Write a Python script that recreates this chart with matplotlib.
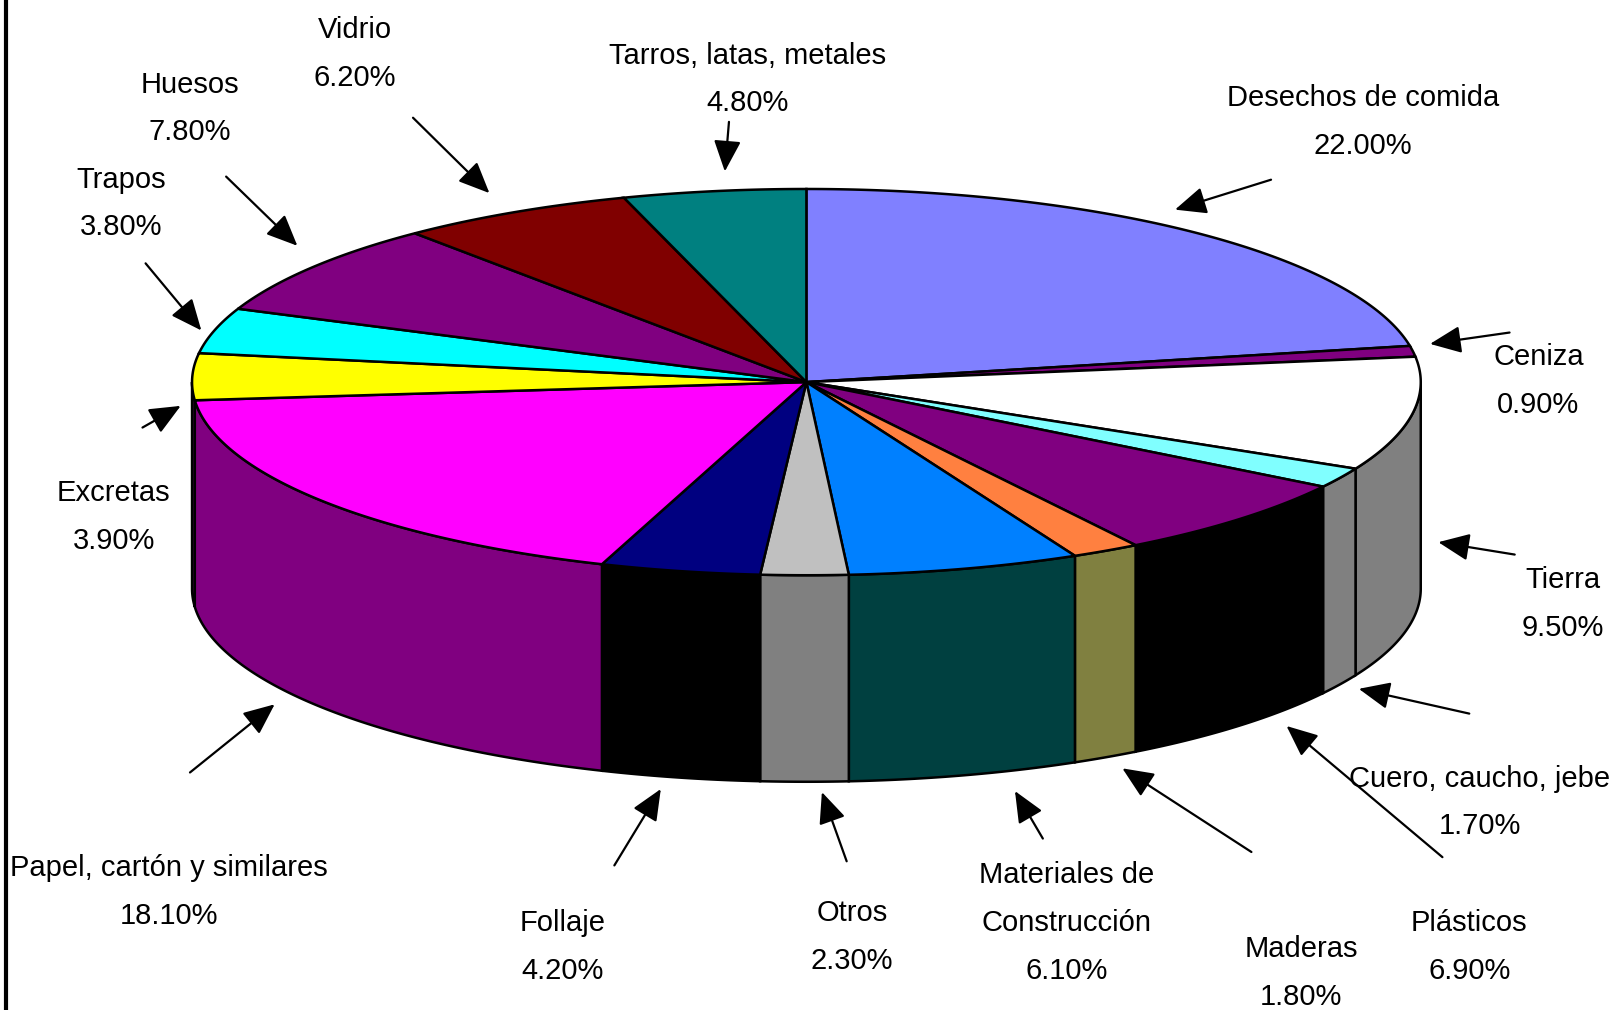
# plot.py - 3D style pie of waste composition

import numpy as np
import matplotlib
matplotlib.use('Agg')
import matplotlib.pyplot as plt
from matplotlib.patches import Polygon

categories = ['Desechos de comida', 'Ceniza', 'Tierra', 'Cuero, caucho, jebe', 'Plásticos',
              'Maderas', 'Materiales de\nConstrucción', 'Otros', 'Follaje',
              'Papel, cartón y similares', 'Excretas', 'Trapos', 'Huesos', 'Vidrio',
              'Tarros, latas, metales']
values = [22.0, 0.9, 9.5, 1.7, 6.9, 1.8, 6.1, 2.3, 4.2, 18.1, 3.9, 3.8, 7.8, 6.2, 4.8]

top_colors = ['#8080FF', '#800080', '#FFFFFF', '#80FFFF', '#800080', '#FF8040', '#0080FF',
              '#C0C0C0', '#000080', '#FF00FF', '#FFFF00', '#00FFFF', '#800080', '#800000',
              '#008080']
side_colors = ['#404080', '#400040', '#808080', '#808080', '#000000', '#808040', '#004040',
               '#808080', '#000000', '#800080', '#800080', '#008080', '#400040', '#400000',
               '#004040']

# label centres and arrows, in the units of the shrunk picture
label_pos = [(1320, 118), (1490, 369), (1514, 585), (1433, 777), (1423, 917),
             (1260, 942), (1033, 894), (825, 907), (545, 917),
             (164, 864), (110, 501), (117, 197), (184, 105), (344, 52), (724, 77)]
arrow_tail = [(1231, 174), (1462, 322), (1467, 537), (1423, 691), (1397, 830),
              (1212, 825), (1010, 812), (820, 834), (595, 838),
              (184, 748), (138, 414), (141, 255), (219, 171), (400, 114), (706, 118)]
arrow_head = [(1138, 203), (1385, 333), (1393, 525), (1316, 667), (1246, 703),
              (1087, 744), (983, 766), (796, 767), (640, 764),
              (266, 682), (175, 393), (195, 320), (288, 238), (474, 187), (702, 166)]

CX, CY = 781, 370
RX, RY = 595, 187
DEPTH = 200


def rim(a0, a1, drop=0):
    # points on the rim, angles clockwise from the top in degrees
    t = np.radians(np.linspace(a0, a1, max(int(abs(a1 - a0) * 3), 2)))
    return np.column_stack([CX + RX * np.sin(t), CY - RY * np.cos(t) + drop])


fig = plt.figure(figsize=(16.19, 10.10), dpi=100)
ax = fig.add_axes([0, 0, 1, 1])
ax.set_xlim(0, 1568)
ax.set_ylim(978, 0)
ax.axis('off')

ax.axvline(6, color='black', lw=3)

edges = np.concatenate([[0], np.cumsum(values)]) * 3.6

# side wall first, only the part facing the viewer
for i in range(len(values)):
    a0, a1 = max(edges[i], 90), min(edges[i + 1], 270)
    if a1 <= a0:
        continue
    pts = np.vstack([rim(a0, a1), rim(a0, a1, DEPTH)[::-1]])
    ax.add_patch(Polygon(pts, closed=True, facecolor=side_colors[i], edgecolor='black', lw=1.8, zorder=2))

# top face
for i in range(len(values)):
    pts = np.vstack([[(CX, CY)], rim(edges[i], edges[i + 1])])
    ax.add_patch(Polygon(pts, closed=True, facecolor=top_colors[i], edgecolor='black', lw=1.8, zorder=3))

for name, val, pos, tail, head in zip(categories, values, label_pos, arrow_tail, arrow_head):
    ax.text(pos[0], pos[1], '%s\n%.2f%%' % (name, val), ha='center', va='center',
            family='Liberation Sans', fontsize=21, linespacing=1.9, color='black', zorder=5)
    ax.annotate('', xy=head, xytext=tail, zorder=4,
                arrowprops=dict(arrowstyle='-|>,head_length=0.8,head_width=0.35', color='black',
                                lw=1.6, mutation_scale=24, shrinkA=0, shrinkB=0))

fig.savefig('out.png', dpi=100, facecolor='white')
